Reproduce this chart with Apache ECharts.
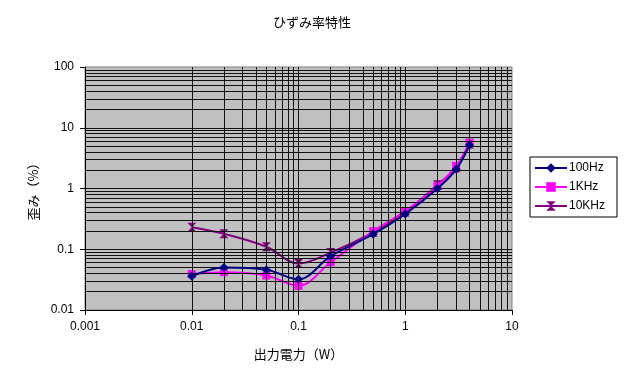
<!DOCTYPE html>
<html><head><meta charset="utf-8">
<script src="https://cdn.jsdelivr.net/npm/echarts@6/dist/echarts.min.js"></script>
<style>html,body{margin:0;padding:0;background:#fff}#c{width:624px;height:370px}</style>
</head><body><div id="c"></div>
<script>
var xValues = [0.01, 0.02, 0.05, 0.1, 0.2, 0.5, 1, 2, 3, 4];
var s100Hz = [0.036, 0.050, 0.046, 0.032, 0.077, 0.177, 0.38, 1.0, 2.07, 5.2];
var s1KHz = [0.039, 0.042, 0.037, 0.025, 0.061, 0.198, 0.425, 1.1, 2.35, 5.7];
var s10KHz = [0.23, 0.18, 0.11, 0.058, 0.088, 0.19, 0.41, 1.15, 2.2, 5.4];
var seriesNames = ['100Hz', '1KHz', '10KHz'];
var xGridValues = [0.002,0.003,0.004,0.005,0.006,0.007,0.008,0.009,0.01,
  0.02,0.03,0.04,0.05,0.06,0.07,0.08,0.09,0.1,
  0.2,0.3,0.4,0.5,0.6,0.7,0.8,0.9,1,
  2,3,4,5,6,7,8,9];
var yGridValues = [0.02,0.03,0.04,0.05,0.06,0.07,0.08,0.09,0.1,
  0.2,0.3,0.4,0.5,0.6,0.7,0.8,0.9,1,
  2,3,4,5,6,7,8,9,10,
  20,30,40,50,60,70,80,90];

function pairs(xs, ys){ return xs.map(function(x,i){ return [x, ys[i]]; }); }
var font = 'Liberation Sans, Arial, Noto Sans CJK JP, sans-serif';
var cjk = 'Noto Sans CJK JP, sans-serif';
var gridLines = xGridValues.map(function(v){ return {xAxis: v}; })
  .concat(yGridValues.map(function(v){ return {yAxis: v}; }));

var chart = echarts.init(document.getElementById('c'), null, {renderer: 'canvas'});
chart.setOption({
  animation: false,
  backgroundColor: '#ffffff',
  title: {
    text: 'ひずみ率特性', left: 'center', top: 11,
    textStyle: {fontFamily: cjk, fontSize: 13, fontWeight: 'normal', color: '#000'}
  },
  grid: {
    left: 85, top: 67, width: 427, height: 243,
    show: true, backgroundColor: '#C0C0C0', borderColor: '#808080', borderWidth: 1
  },
  legend: {
    data: seriesNames, orient: 'vertical', left: 530, top: 157,
    padding: [5, 12, 5, 4], itemGap: 7, itemWidth: 32, itemHeight: 12,
    borderColor: '#000', borderWidth: 1, backgroundColor: '#fff',
    textStyle: {fontFamily: font, fontSize: 12, color: '#000', padding: [0,0,0,-3]}
  },
  xAxis: {
    type: 'log', logBase: 10, min: 0.001, max: 10,
    name: '出力電力（W）', nameLocation: 'middle', nameGap: 38,
    nameTextStyle: {fontFamily: cjk, fontSize: 13, color: '#000'},
    axisLine: {show: true, lineStyle: {color: '#000', width: 1}},
    axisTick: {show: true, length: 5, lineStyle: {color: '#000'}},
    axisLabel: {margin: 11, fontFamily: font, fontSize: 12, color: '#000',
      formatter: function(v){ return String(+v.toPrecision(3)); }},
    splitLine: {show: false}
  },
  yAxis: {
    type: 'log', logBase: 10, min: 0.01, max: 100,
    name: '歪み（%）', nameLocation: 'middle', nameGap: 42, nameRotate: 90,
    nameTextStyle: {fontFamily: cjk, fontSize: 13, color: '#000'},
    axisLine: {show: true, lineStyle: {color: '#000', width: 1}},
    axisTick: {show: true, length: 5, lineStyle: {color: '#000'}},
    axisLabel: {margin: 11, fontFamily: font, fontSize: 12, color: '#000',
      formatter: function(v){ return String(+v.toPrecision(3)); }},
    splitLine: {show: false}
  },
  series: [
    {
      name: 'gridlines', type: 'line', data: [], z: 1, silent: true,
      markLine: {
        silent: true, symbol: ['none', 'none'], label: {show: false},
        lineStyle: {color: '#111', width: 1, type: 'solid'},
        emphasis: {disabled: true},
        data: gridLines
      }
    },
    {
      name: seriesNames[2], type: 'line', z: 3, smooth: 0.35,
      data: pairs(xValues, s10KHz),
      symbol: 'path://M0,0 L10,0 L0,10 L10,10 Z', symbolSize: [9, 9],
      itemStyle: {color: '#800080'}, lineStyle: {color: '#800080', width: 2}
    },
    {
      name: seriesNames[1], type: 'line', z: 4, smooth: 0.35,
      data: pairs(xValues, s1KHz),
      symbol: 'rect', symbolSize: 8,
      itemStyle: {color: '#FF00FF'}, lineStyle: {color: '#FF00FF', width: 2}
    },
    {
      name: seriesNames[0], type: 'line', z: 5, smooth: 0.35,
      data: pairs(xValues, s100Hz),
      symbol: 'diamond', symbolSize: 9,
      itemStyle: {color: '#000080'}, lineStyle: {color: '#000080', width: 2}
    }
  ]
});
</script></body></html>
